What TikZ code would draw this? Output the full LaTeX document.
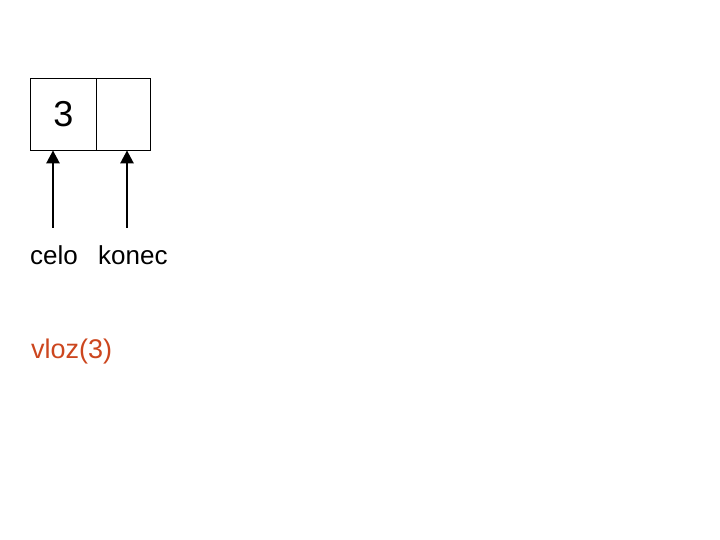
\documentclass[tikz,border=0pt]{standalone}
\usepackage{fontspec}
\setmainfont{Liberation Sans}
\usetikzlibrary{positioning,arrows.meta}
\definecolor{vlozcol}{RGB}{204,70,30}

\begin{document}
\begin{tikzpicture}[x=1pt,y=-1pt,
  cell/.style={draw,line width=0.8pt,shape=rectangle,minimum height=72pt,inner sep=0pt},
  ptr/.style={line width=2.6pt,-{Triangle[length=13pt,width=13pt]}},
  lbl/.style={anchor=base west,inner sep=0pt,font=\fontsize{26}{30}\selectfont}]
\useasboundingbox (0,0) rectangle (720,540);
\node[cell,minimum width=66.7pt] (A) at (63.35,114) {\fontsize{36}{40}\selectfont 3};
\node[cell,minimum width=53.3pt] (B) at (123.35,114) {};
\coordinate (celoTail) at (53,228);
\coordinate (konecTail) at (127,228);
\draw[ptr] (celoTail) -- (celoTail |- A.south);
\draw[ptr] (konecTail) -- (konecTail |- B.south);
\node[lbl] (celo) at (30,264) {celo};
\node[lbl] (konec) at (98,264) {konec};
\node[lbl,text=vlozcol,font=\fontsize{27}{32}\selectfont] (vloz) at (31,358) {vloz(3)};
\end{tikzpicture}
\end{document}
